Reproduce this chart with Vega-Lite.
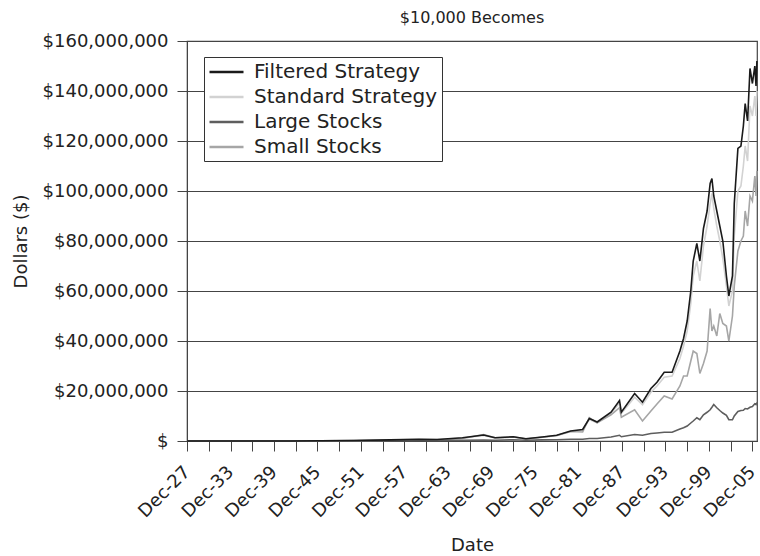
{
  "$schema": "https://vega.github.io/schema/vega-lite/v6.json",
  "width": 570,
  "height": 400,
  "padding": {"left": 12, "top": 10, "right": 0, "bottom": 0},
  "background": "white",
  "title": {"text": "$10,000 Becomes", "fontSize": 16, "fontWeight": "normal", "font": "DejaVu Sans", "color": "#222", "offset": 6},
  "config": {
    "font": "DejaVu Sans",
    "view": {"stroke": "#444", "strokeWidth": 1.2},
    "axis": {"labelColor": "#222", "titleColor": "#222", "domainColor": "#444", "tickColor": "#444", "gridColor": "#444", "labelFont": "DejaVu Sans", "titleFont": "DejaVu Sans", "titleFontWeight": "normal"}
  },
  "data": {
    "values": [
      {"d": "1927-12-01", "Filtered Strategy": 10000, "Standard Strategy": 10000, "Large Stocks": 10000, "Small Stocks": 10000},
      {"d": "1929-08-01", "Filtered Strategy": 20000, "Standard Strategy": 19000, "Large Stocks": 20000, "Small Stocks": 22000},
      {"d": "1932-06-01", "Filtered Strategy": 5000, "Standard Strategy": 5000, "Large Stocks": 4000, "Small Stocks": 3000},
      {"d": "1936-12-01", "Filtered Strategy": 30000, "Standard Strategy": 28000, "Large Stocks": 20000, "Small Stocks": 30000},
      {"d": "1942-04-01", "Filtered Strategy": 30000, "Standard Strategy": 28000, "Large Stocks": 15000, "Small Stocks": 20000},
      {"d": "1946-05-01", "Filtered Strategy": 120000, "Standard Strategy": 110000, "Large Stocks": 40000, "Small Stocks": 80000},
      {"d": "1950-12-01", "Filtered Strategy": 200000, "Standard Strategy": 180000, "Large Stocks": 60000, "Small Stocks": 150000},
      {"d": "1955-12-01", "Filtered Strategy": 450000, "Standard Strategy": 420000, "Large Stocks": 150000, "Small Stocks": 300000},
      {"d": "1959-12-01", "Filtered Strategy": 700000, "Standard Strategy": 650000, "Large Stocks": 220000, "Small Stocks": 500000},
      {"d": "1962-06-01", "Filtered Strategy": 600000, "Standard Strategy": 550000, "Large Stocks": 200000, "Small Stocks": 400000},
      {"d": "1965-12-01", "Filtered Strategy": 1300000, "Standard Strategy": 1200000, "Large Stocks": 330000, "Small Stocks": 1000000},
      {"d": "1968-11-01", "Filtered Strategy": 2400000, "Standard Strategy": 2200000, "Large Stocks": 420000, "Small Stocks": 2600000},
      {"d": "1970-06-01", "Filtered Strategy": 1300000, "Standard Strategy": 1200000, "Large Stocks": 320000, "Small Stocks": 1300000},
      {"d": "1972-12-01", "Filtered Strategy": 1700000, "Standard Strategy": 1600000, "Large Stocks": 500000, "Small Stocks": 1600000},
      {"d": "1974-09-01", "Filtered Strategy": 900000, "Standard Strategy": 850000, "Large Stocks": 300000, "Small Stocks": 800000},
      {"d": "1976-12-01", "Filtered Strategy": 1600000, "Standard Strategy": 1500000, "Large Stocks": 450000, "Small Stocks": 1500000},
      {"d": "1978-12-01", "Filtered Strategy": 2300000, "Standard Strategy": 2100000, "Large Stocks": 500000, "Small Stocks": 2200000},
      {"d": "1980-11-01", "Filtered Strategy": 4000000, "Standard Strategy": 3800000, "Large Stocks": 700000, "Small Stocks": 3800000},
      {"d": "1982-07-01", "Filtered Strategy": 4600000, "Standard Strategy": 4400000, "Large Stocks": 700000, "Small Stocks": 3600000},
      {"d": "1983-06-01", "Filtered Strategy": 9000000, "Standard Strategy": 8600000, "Large Stocks": 1000000, "Small Stocks": 9300000},
      {"d": "1984-07-01", "Filtered Strategy": 7600000, "Standard Strategy": 7300000, "Large Stocks": 1000000, "Small Stocks": 7300000},
      {"d": "1986-06-01", "Filtered Strategy": 11500000, "Standard Strategy": 11000000, "Large Stocks": 1600000, "Small Stocks": 10500000},
      {"d": "1987-08-01", "Filtered Strategy": 16200000, "Standard Strategy": 15200000, "Large Stocks": 2300000, "Small Stocks": 13300000},
      {"d": "1987-11-01", "Filtered Strategy": 11500000, "Standard Strategy": 11000000, "Large Stocks": 1700000, "Small Stocks": 9500000},
      {"d": "1989-09-01", "Filtered Strategy": 19000000, "Standard Strategy": 17500000, "Large Stocks": 2600000, "Small Stocks": 12500000},
      {"d": "1990-10-01", "Filtered Strategy": 15500000, "Standard Strategy": 14500000, "Large Stocks": 2300000, "Small Stocks": 8000000},
      {"d": "1991-12-01", "Filtered Strategy": 21000000, "Standard Strategy": 19500000, "Large Stocks": 3000000, "Small Stocks": 12000000},
      {"d": "1992-10-01", "Filtered Strategy": 23500000, "Standard Strategy": 22000000, "Large Stocks": 3200000, "Small Stocks": 14800000},
      {"d": "1993-10-01", "Filtered Strategy": 27500000, "Standard Strategy": 25500000, "Large Stocks": 3500000, "Small Stocks": 18000000},
      {"d": "1994-11-01", "Filtered Strategy": 27500000, "Standard Strategy": 26000000, "Large Stocks": 3500000, "Small Stocks": 16800000},
      {"d": "1995-12-01", "Filtered Strategy": 36000000, "Standard Strategy": 33000000, "Large Stocks": 4800000, "Small Stocks": 22000000},
      {"d": "1996-06-01", "Filtered Strategy": 41000000, "Standard Strategy": 38000000, "Large Stocks": 5300000, "Small Stocks": 26000000},
      {"d": "1996-12-01", "Filtered Strategy": 48000000, "Standard Strategy": 44000000, "Large Stocks": 6000000, "Small Stocks": 26000000},
      {"d": "1997-06-01", "Filtered Strategy": 60000000, "Standard Strategy": 55000000, "Large Stocks": 7200000, "Small Stocks": 32000000},
      {"d": "1997-10-01", "Filtered Strategy": 72000000, "Standard Strategy": 66000000, "Large Stocks": 8000000, "Small Stocks": 36000000},
      {"d": "1998-04-01", "Filtered Strategy": 79000000, "Standard Strategy": 72000000, "Large Stocks": 9300000, "Small Stocks": 35000000},
      {"d": "1998-09-01", "Filtered Strategy": 72000000, "Standard Strategy": 64000000, "Large Stocks": 8500000, "Small Stocks": 27000000},
      {"d": "1999-03-01", "Filtered Strategy": 85000000, "Standard Strategy": 78000000, "Large Stocks": 10500000, "Small Stocks": 31000000},
      {"d": "1999-09-01", "Filtered Strategy": 92000000, "Standard Strategy": 86000000, "Large Stocks": 11500000, "Small Stocks": 36000000},
      {"d": "2000-02-01", "Filtered Strategy": 103000000, "Standard Strategy": 95000000, "Large Stocks": 12500000, "Small Stocks": 53000000},
      {"d": "2000-05-01", "Filtered Strategy": 105000000, "Standard Strategy": 99000000, "Large Stocks": 13500000, "Small Stocks": 44000000},
      {"d": "2000-08-01", "Filtered Strategy": 98000000, "Standard Strategy": 93000000, "Large Stocks": 14600000, "Small Stocks": 46000000},
      {"d": "2001-01-01", "Filtered Strategy": 92000000, "Standard Strategy": 86000000, "Large Stocks": 13300000, "Small Stocks": 42000000},
      {"d": "2001-06-01", "Filtered Strategy": 86000000, "Standard Strategy": 80000000, "Large Stocks": 12200000, "Small Stocks": 51000000},
      {"d": "2001-11-01", "Filtered Strategy": 80000000, "Standard Strategy": 73000000, "Large Stocks": 11200000, "Small Stocks": 47000000},
      {"d": "2002-05-01", "Filtered Strategy": 66000000, "Standard Strategy": 62000000, "Large Stocks": 10300000, "Small Stocks": 46000000},
      {"d": "2002-09-01", "Filtered Strategy": 58000000, "Standard Strategy": 54000000, "Large Stocks": 8500000, "Small Stocks": 40000000},
      {"d": "2003-03-01", "Filtered Strategy": 66000000, "Standard Strategy": 60000000, "Large Stocks": 8500000, "Small Stocks": 50000000},
      {"d": "2003-06-01", "Filtered Strategy": 95000000, "Standard Strategy": 82000000, "Large Stocks": 10000000, "Small Stocks": 62000000},
      {"d": "2003-12-01", "Filtered Strategy": 117000000, "Standard Strategy": 100000000, "Large Stocks": 11800000, "Small Stocks": 76000000},
      {"d": "2004-05-01", "Filtered Strategy": 118000000, "Standard Strategy": 102000000, "Large Stocks": 12200000, "Small Stocks": 80000000},
      {"d": "2004-09-01", "Filtered Strategy": 126000000, "Standard Strategy": 110000000, "Large Stocks": 12300000, "Small Stocks": 82000000},
      {"d": "2004-12-01", "Filtered Strategy": 135000000, "Standard Strategy": 118000000, "Large Stocks": 13000000, "Small Stocks": 92000000},
      {"d": "2005-04-01", "Filtered Strategy": 128000000, "Standard Strategy": 112000000, "Large Stocks": 12800000, "Small Stocks": 86000000},
      {"d": "2005-08-01", "Filtered Strategy": 149000000, "Standard Strategy": 134000000, "Large Stocks": 13500000, "Small Stocks": 98000000},
      {"d": "2005-12-01", "Filtered Strategy": 143000000, "Standard Strategy": 130000000, "Large Stocks": 13800000, "Small Stocks": 96000000},
      {"d": "2006-04-01", "Filtered Strategy": 150000000, "Standard Strategy": 138000000, "Large Stocks": 14900000, "Small Stocks": 106000000},
      {"d": "2006-06-01", "Filtered Strategy": 142000000, "Standard Strategy": 130000000, "Large Stocks": 14600000, "Small Stocks": 98000000},
      {"d": "2006-07-15", "Filtered Strategy": 152000000, "Standard Strategy": 140000000, "Large Stocks": 15400000, "Small Stocks": 108000000}
    ]
  },
  "transform": [
    {"fold": ["Standard Strategy", "Small Stocks", "Large Stocks", "Filtered Strategy"], "as": ["series", "value"]}
  ],
  "mark": {"type": "line", "strokeWidth": 1.6},
  "encoding": {
    "x": {
      "field": "d", "type": "temporal",
      "scale": {"type": "utc", "domain": [{"year": 1927, "month": 12, "date": 1, "utc": true}, {"year": 2006, "month": 7, "date": 20, "utc": true}]},
      "axis": {
        "title": "Date", "titleFontSize": 18, "titlePadding": 16,
        "format": "%b-%y", "labelAngle": -45, "labelAlign": "right", "labelBaseline": "middle", "labelFontSize": 18, "labelPadding": 18,
        "tickSize": 10, "grid": false, "labelOverlap": false,
        "labelExpr": "utcyear(datum.value) % 6 == 1 ? datum.label : ''",
        "values": [
          {"year": 1927, "month": 12, "date": 1, "utc": true}, {"year": 1930, "month": 12, "date": 1, "utc": true},
          {"year": 1933, "month": 12, "date": 1, "utc": true}, {"year": 1936, "month": 12, "date": 1, "utc": true},
          {"year": 1939, "month": 12, "date": 1, "utc": true}, {"year": 1942, "month": 12, "date": 1, "utc": true},
          {"year": 1945, "month": 12, "date": 1, "utc": true}, {"year": 1948, "month": 12, "date": 1, "utc": true},
          {"year": 1951, "month": 12, "date": 1, "utc": true}, {"year": 1954, "month": 12, "date": 1, "utc": true},
          {"year": 1957, "month": 12, "date": 1, "utc": true}, {"year": 1960, "month": 12, "date": 1, "utc": true},
          {"year": 1963, "month": 12, "date": 1, "utc": true}, {"year": 1966, "month": 12, "date": 1, "utc": true},
          {"year": 1969, "month": 12, "date": 1, "utc": true}, {"year": 1972, "month": 12, "date": 1, "utc": true},
          {"year": 1975, "month": 12, "date": 1, "utc": true}, {"year": 1978, "month": 12, "date": 1, "utc": true},
          {"year": 1981, "month": 12, "date": 1, "utc": true}, {"year": 1984, "month": 12, "date": 1, "utc": true},
          {"year": 1987, "month": 12, "date": 1, "utc": true}, {"year": 1990, "month": 12, "date": 1, "utc": true},
          {"year": 1993, "month": 12, "date": 1, "utc": true}, {"year": 1996, "month": 12, "date": 1, "utc": true},
          {"year": 1999, "month": 12, "date": 1, "utc": true}, {"year": 2002, "month": 12, "date": 1, "utc": true},
          {"year": 2005, "month": 12, "date": 1, "utc": true}
        ]
      }
    },
    "y": {
      "field": "value", "type": "quantitative",
      "scale": {"domain": [0, 160000000], "nice": false},
      "axis": {
        "title": "Dollars ($)", "titleFontSize": 18, "titlePadding": 12,
        "values": [0, 20000000, 40000000, 60000000, 80000000, 100000000, 120000000, 140000000, 160000000],
        "labelExpr": "datum.value == 0 ? '$' : '$' + format(datum.value, ',')",
        "labelFontSize": 18, "labelPadding": 9, "tickSize": 10,
        "grid": true, "gridColor": "#444", "gridWidth": 1.2
      }
    },
    "color": {
      "field": "series", "type": "nominal",
      "scale": {
        "domain": ["Filtered Strategy", "Standard Strategy", "Large Stocks", "Small Stocks"],
        "range": ["#1a1a1a", "#d2d2d2", "#5e5e5e", "#a6a6a6"]
      },
      "legend": {
        "title": null, "orient": "none", "legendX": 17, "legendY": 16,
        "direction": "vertical",
        "fillColor": "white", "strokeColor": "#333", "padding": 4,
        "labelFontSize": 20, "labelColor": "#222", "labelOffset": 24, "labelLimit": 300,
        "symbolType": "M-1,0H2.58", "symbolSize": 361, "symbolStrokeWidth": 2.5, "rowPadding": 4
      }
    }
  }
}
